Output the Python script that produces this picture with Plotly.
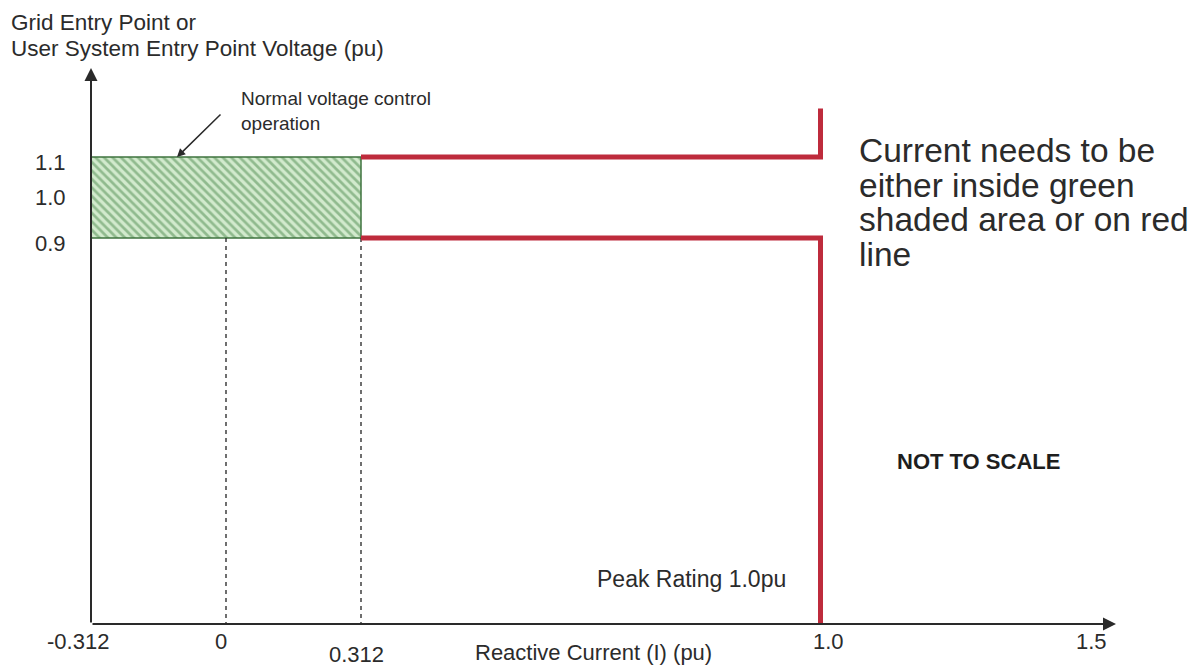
import numpy as np
import plotly.graph_objects as go

# ---------------- data ----------------
x_tick_values = [-0.312, 0.0, 0.312, 1.0, 1.5]
x_tick_labels = ["-0.312", "0", "0.312", "1.0", "1.5"]
y_tick_values = [1.1, 1.0, 0.9]
y_tick_labels = ["1.1", "1.0", "0.9"]

green_band_x = [-0.312, 0.312]      # reactive current (pu)
green_band_y = [0.9, 1.1]           # voltage (pu)

upper_red_x = [0.312, 1.0, 1.0]
upper_red_y = [1.1, 1.1, 1.22]
lower_red_x = [0.312, 1.0, 1.0]
lower_red_y = [0.9, 0.9, None]      # goes down to the x axis (filled below)

dashed_x = [0.0, 0.312]
dashed_top = 0.9

# ---------------- "not to scale" display scale ----------------
X_DISPLAY_POS = [0, 135, 270, 729.5, 1009]   # display units for x_tick_values
X_RANGE = [0, 1025]
Y_RANGE = [-0.053, 1.32]
Y_BASE = Y_RANGE[0]


def xs(v):
    return np.interp(v, x_tick_values, X_DISPLAY_POS)


lower_red_y = [Y_BASE if v is None else v for v in lower_red_y]

W, H = 1196, 666
ML, MR, MT, MB = 91, 80, 68, 42
PW, PH = W - ML - MR, H - MT - MB


def px(xp):
    return (xp - ML) / PW


def py(yp):
    return (H - MB - yp) / PH


FONT = "Liberation Sans, Arial, sans-serif"
TXT = "#2b2b2b"
RED = "#BE2B3C"

fig = go.Figure()

# green hatched band
gx0, gx1 = xs(green_band_x[0]), xs(green_band_x[1])
gy0, gy1 = green_band_y
fig.add_trace(go.Scatter(
    x=[gx0, gx1, gx1, gx0, gx0], y=[gy0, gy0, gy1, gy1, gy0],
    mode="lines", fill="toself",
    line=dict(color="#3f743f", width=1.5),
    fillcolor="#cfe8cb",
    fillpattern=dict(shape="\\", fgcolor="#4d8a4f", bgcolor="#d2eacd",
                     size=6, solidity=0.45),
    hoverinfo="skip"))

# dashed verticals
dxs, dys = [], []
for v in dashed_x:
    dxs += [xs(v), xs(v), None]
    dys += [dashed_top, Y_BASE, None]
fig.add_trace(go.Scatter(x=dxs, y=dys, mode="lines",
                         line=dict(color="#222222", width=1.3, dash="4px,4px"),
                         hoverinfo="skip"))

# red lines
for rx, ry in [(upper_red_x, upper_red_y), (lower_red_x, lower_red_y)]:
    fig.add_trace(go.Scatter(x=[xs(v) for v in rx], y=ry, mode="lines",
                             line=dict(color=RED, width=5), hoverinfo="skip"))

ann = []
# axes with arrows
ann.append(dict(x=X_RANGE[1], y=Y_BASE, ax=0, ay=Y_BASE, xref="x", yref="y",
                axref="x", ayref="y", showarrow=True, arrowhead=2, arrowsize=1.3,
                arrowwidth=2, arrowcolor="#2a2a2a", text=""))
ann.append(dict(x=0, y=Y_RANGE[1], ax=0, ay=Y_BASE, xref="x", yref="y",
                axref="x", ayref="y", showarrow=True, arrowhead=2, arrowsize=1.3,
                arrowwidth=2, arrowcolor="#2a2a2a", text=""))

# x tick labels
x_label_shift = [-13, -5, -5, 8, -9]
x_label_y = [641, 641, 654, 641, 641]
for v, t, sh, yy in zip(x_tick_values, x_tick_labels, x_label_shift, x_label_y):
    ann.append(dict(x=xs(v), y=py(yy), xref="x", yref="paper", text=t,
                    showarrow=False, xshift=sh, xanchor="center", yanchor="middle",
                    font=dict(family=FONT, size=22, color=TXT)))

# y tick labels
y_label_shift = [-5, 0, -5]
for v, t, sh in zip(y_tick_values, y_tick_labels, y_label_shift):
    ann.append(dict(x=px(68), y=v, xref="paper", yref="y", text=t,
                    showarrow=False, xanchor="right", yanchor="middle", yshift=sh,
                    font=dict(family=FONT, size=22, color=TXT)))

# axis titles
ann.append(dict(x=px(9), y=py(22), xref="paper", yref="paper",
                text="Grid Entry Point or", showarrow=False,
                xanchor="left", yanchor="middle",
                font=dict(family=FONT, size=22.5, color=TXT)))
ann.append(dict(x=px(9), y=py(49), xref="paper", yref="paper",
                text="User System Entry Point Voltage (pu)", showarrow=False,
                xanchor="left", yanchor="middle",
                font=dict(family=FONT, size=22.5, color=TXT)))
ann.append(dict(x=px(473), y=py(652), xref="paper", yref="paper",
                text="Reactive Current (I) (pu)", showarrow=False,
                xanchor="left", yanchor="middle",
                font=dict(family=FONT, size=22, color=TXT)))

# callout
ann.append(dict(x=px(239), y=py(111), xref="paper", yref="paper",
                text="Normal voltage control<br>operation", showarrow=False,
                xanchor="left", yanchor="middle", align="left",
                font=dict(family=FONT, size=19, color=TXT)))
ann.append(dict(x=xs(-0.312) + 86, y=green_band_y[1], xref="x", yref="y",
                ax=45, ay=-44, showarrow=True, arrowhead=2, arrowsize=1.1,
                arrowwidth=1.5, arrowcolor="#2a2a2a", text=""))

# right-hand note
note_lines = ["Current needs to be", "either inside green",
              "shaded area or on red", "line"]
for i, line in enumerate(note_lines):
    ann.append(dict(x=px(857), y=py(151 + 34.5 * i), xref="paper", yref="paper",
                    text=line, showarrow=False, xanchor="left", yanchor="middle",
                    font=dict(family=FONT, size=33.5, color=TXT)))

ann.append(dict(x=px(895), y=py(461), xref="paper", yref="paper",
                text="<b>NOT TO SCALE</b>", showarrow=False,
                xanchor="left", yanchor="middle",
                font=dict(family=FONT, size=22, color="#1e1e1e")))
ann.append(dict(x=px(595), y=py(579), xref="paper", yref="paper",
                text="Peak Rating 1.0pu", showarrow=False,
                xanchor="left", yanchor="middle",
                font=dict(family=FONT, size=23, color=TXT)))

fig.update_layout(
    width=W, height=H,
    margin=dict(l=ML, r=MR, t=MT, b=MB, pad=0),
    paper_bgcolor="white", plot_bgcolor="white",
    showlegend=False,
    xaxis=dict(range=X_RANGE, showgrid=False, zeroline=False, showline=False,
               showticklabels=False, ticks="", fixedrange=True),
    yaxis=dict(range=Y_RANGE, showgrid=False, zeroline=False, showline=False,
               showticklabels=False, ticks="", fixedrange=True),
    annotations=ann,
)

fig.write_html("out.html", config={"displayModeBar": False},
               post_script="document.body.style.margin='0px';"
                           "document.body.style.overflow='hidden';")
